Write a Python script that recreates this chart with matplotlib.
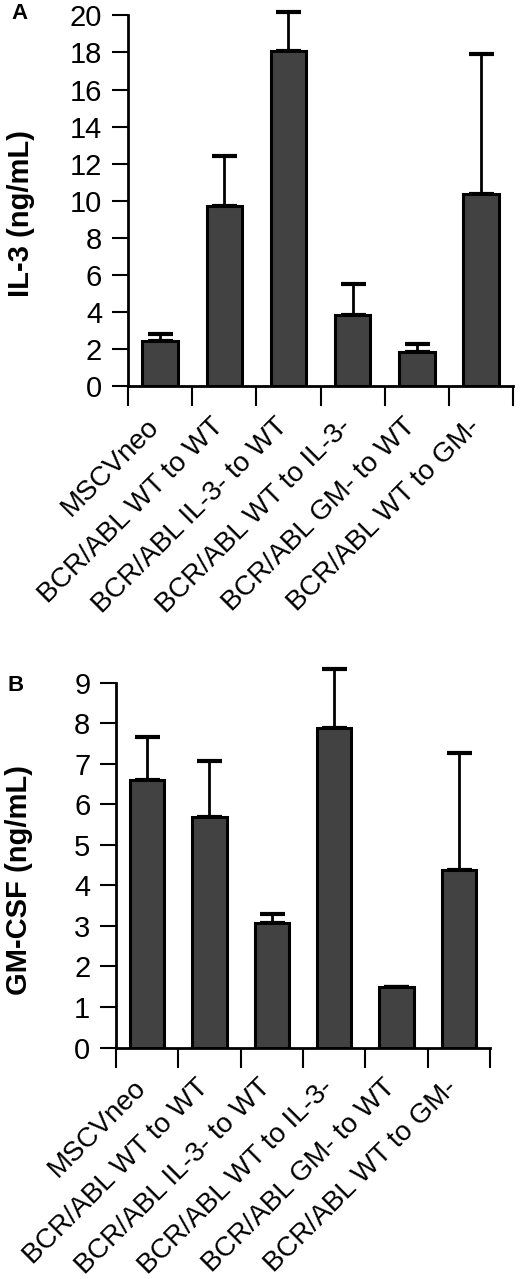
import matplotlib.pyplot as plt
import matplotlib.transforms as mtransforms
import numpy as np

plt.rcParams['font.family'] = ['Liberation Sans', 'DejaVu Sans']

groups = ["MSCVneo", "BCR/ABL WT to WT", "BCR/ABL IL-3- to WT",
          "BCR/ABL WT to IL-3-", "BCR/ABL GM- to WT", "BCR/ABL WT to GM-"]

il3_mean = [2.45, 9.7, 18.1, 3.85, 1.85, 10.35]
il3_upper = [2.8, 12.4, 20.2, 5.5, 2.3, 17.9]

gm_mean = [6.6, 5.7, 3.08, 7.9, 1.5, 4.38]
gm_upper = [7.67, 7.08, 3.29, 9.35, 1.5, 7.27]

bar_color = '#424242'


def panel(ax, mean, upper, ymax, step, ylabel, label_xy):
    x = np.arange(len(groups))
    err = np.array(upper) - np.array(mean)
    ax.bar(x, mean, width=0.55, color=bar_color, edgecolor='black',
           linewidth=2.2, zorder=2)
    eb = ax.errorbar(x, mean, yerr=[np.zeros(len(mean)), err], fmt='none',
                     ecolor='black', elinewidth=2, capsize=9, capthick=3,
                     zorder=1)
    for art in eb.lines[1] + eb.lines[2]:
        art.set_clip_on(False)
    ax.set_xlim(-0.5, len(groups) - 0.5)
    ax.set_ylim(0, ymax)
    ax.spines['top'].set_visible(False)
    ax.spines['right'].set_visible(False)
    ax.spines['left'].set_linewidth(2)
    ax.spines['bottom'].set_linewidth(2)
    ax.set_yticks(np.arange(0, ymax + 1, step))
    ax.tick_params(axis='y', direction='out', length=11.5, width=1.5,
                   pad=7, labelsize=21)
    ax.set_xticks(x)
    ax.set_xticklabels(groups, rotation=45, ha='right', va='center',
                       rotation_mode='anchor', fontsize=20)
    ax.tick_params(axis='x', which='major', length=0, pad=26)
    # nudge labels a little left, as in the original
    shift = mtransforms.ScaledTranslation(-5 / 100, 0, ax.figure.dpi_scale_trans)
    for lab in ax.get_xticklabels():
        lab.set_transform(lab.get_transform() + shift)
    ax.set_xticks(np.arange(-0.5, len(groups)), minor=True)
    ax.tick_params(axis='x', which='minor', direction='out', length=14.5,
                   width=1.5)
    ax.set_ylabel(ylabel, fontsize=21, fontweight='bold')
    ax.yaxis.set_label_coords(*label_xy)


fig = plt.figure(figsize=(5.2, 12.79), dpi=100)

ax1 = fig.add_axes([0.246, 0.698, 0.741, 0.290])
panel(ax1, il3_mean, il3_upper, 20, 2, "IL-3 (ng/mL)", (-0.242, 0.466))

ax2 = fig.add_axes([0.223, 0.181, 0.719, 0.285])
panel(ax2, gm_mean, gm_upper, 9, 1, "GM-CSF (ng/mL)", (-0.222, 0.459))

fig.text(0.022, 0.998, "A", fontsize=16, fontweight='bold', va='top')
fig.text(0.014, 0.472, "B", fontsize=16, fontweight='bold', va='top')

fig.savefig("out.png", dpi=100)
